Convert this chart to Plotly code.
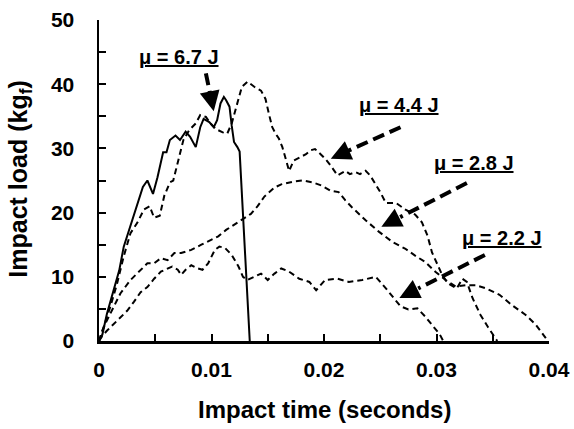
import plotly.graph_objects as go

# ---- data ----
t_67 = [0, 0.0003, 0.0007, 0.0013, 0.0018, 0.0022, 0.0027, 0.0033, 0.0039, 0.0043, 0.0048, 0.0052,
        0.0057, 0.006, 0.0063, 0.0068, 0.0072, 0.0077, 0.0081, 0.0086, 0.009, 0.0093, 0.0098, 0.0102,
        0.0105, 0.0108, 0.0111, 0.0113, 0.0116, 0.0118, 0.012, 0.0123, 0.0125, 0.0134]
L_67 = [0, 1.0, 4.2, 7.9, 11, 14.7, 17.4, 20.5, 24, 25, 22.9, 25.5,
        29.4, 29.4, 31.3, 32, 31.3, 32.6, 31.8, 30.2, 33.3, 34.6, 34.1, 33.3,
        34.4, 37, 38, 37.5, 36.5, 33.5, 31, 30.2, 29.5, 0]

t_44 = [0, 0.0004, 0.001, 0.0016, 0.0022, 0.0028, 0.0034, 0.004, 0.0045, 0.0049, 0.0054, 0.0058,
        0.0063, 0.0066, 0.0071, 0.0075, 0.008, 0.0086, 0.009, 0.0095, 0.0099, 0.0104, 0.011, 0.0114,
        0.0118, 0.0123, 0.0127, 0.0132, 0.0138, 0.0144, 0.0148, 0.0151, 0.0154, 0.0157, 0.016, 0.0163,
        0.0167, 0.0169, 0.0173, 0.0179, 0.0184, 0.0188, 0.0192, 0.0197, 0.0201, 0.0206, 0.0209, 0.0212,
        0.0214, 0.0219, 0.0223, 0.0228, 0.0232, 0.0237, 0.0241, 0.0245, 0.025, 0.0255, 0.0264, 0.0272,
        0.0281, 0.0287, 0.0292, 0.0296, 0.0301, 0.0305, 0.031, 0.0318, 0.0323, 0.0327, 0.0332, 0.0339,
        0.0346, 0.0352, 0.0354]
L_44 = [0, 2.1, 5.3, 8.9, 13.2, 16.8, 18.4, 20.5, 21, 19.2, 19.5, 22.6,
        24.7, 25, 28.6, 31.3, 32.8, 33.9, 35.2, 34.9, 33.9, 33, 32.5, 32.3,
        33.9, 37, 39.6, 40.4, 39.6, 39, 37.7, 35.4, 33.3, 32.3, 31.5, 30.2,
        27.6, 26.5, 28.1, 28.6, 29.1, 29.7, 29.9, 29.1, 28.4, 27.3, 26.5, 25.8,
        26, 26.5, 26, 26.3, 26, 26.5, 25.8, 24.7, 23.2, 21.5, 21.5, 20.5,
        19.7, 18.5, 16.4, 13.8, 11.8, 10.3, 9, 8.2, 9.7, 9.2, 6.7, 4.1,
        2.1, 0.5, 0]

t_28 = [0, 0.0003, 0.0007, 0.0013, 0.0019, 0.0028, 0.0037, 0.0043, 0.0049, 0.0055, 0.0061, 0.0067,
        0.0073, 0.0082, 0.0091, 0.01, 0.0106, 0.0113, 0.0121, 0.0129, 0.0135, 0.0141, 0.0147, 0.0156,
        0.0162, 0.0172, 0.0181, 0.019, 0.0198, 0.0206, 0.0213, 0.0219, 0.0225, 0.0237, 0.0249, 0.0261,
        0.0272, 0.0281, 0.029, 0.0299, 0.0308, 0.0317, 0.0326, 0.0335, 0.0344, 0.0356, 0.0367, 0.0379,
        0.0388, 0.0397, 0.0399]
L_28 = [0, 1.6, 3.2, 5.3, 7.4, 9.5, 11, 12.1, 12.1, 12.9, 12.6, 13.7,
        13.7, 14.2, 15, 15.8, 16.3, 17.3, 18.2, 19.2, 19.8, 21, 22.5, 23.9,
        24.4, 24.8, 25, 24.7, 24.2, 23.4, 23.2, 21.9, 20.8, 18.8, 17, 15.4,
        14.4, 13.3, 12.3, 10.8, 9.5, 8.5, 8.7, 8.7, 8.2, 7.2, 5.6, 4.1,
        2.6, 0.5, 0]

t_22 = [0, 0.0003, 0.0007, 0.0013, 0.0019, 0.0025, 0.0031, 0.0037, 0.0043, 0.0049, 0.0055, 0.0061,
        0.0065, 0.007, 0.0073, 0.0077, 0.0082, 0.0088, 0.0092, 0.0097, 0.0103, 0.0107, 0.0112, 0.0118,
        0.0124, 0.0128, 0.0132, 0.0138, 0.0144, 0.015, 0.0156, 0.0162, 0.0169, 0.0178, 0.0187, 0.0193,
        0.0201, 0.0212, 0.0222, 0.0234, 0.0246, 0.0255, 0.0262, 0.0268, 0.0275, 0.0283, 0.029, 0.0297,
        0.0303, 0.0306]
L_22 = [0, 0.8, 1.6, 2.6, 3.7, 4.7, 6.1, 7.6, 8.4, 9.7, 10.8, 11.3,
        11.6, 11.1, 10.3, 11.1, 11.8, 11.3, 11.1, 12.1, 14.2, 14.7, 14.5, 13.4,
        11.6, 10, 9.5, 10, 10.5, 9.5, 10.5, 11.3, 10.8, 9.7, 9.2, 7.9,
        9.5, 9.7, 9.2, 9.5, 10, 8.2, 6.7, 5.4, 4.9, 5.1, 3.8, 2.3,
        1, 0]

labels = ["μ = 6.7 J", "μ = 4.4 J", "μ = 2.8 J", "μ = 2.2 J"]
x_ticks = [0, 0.01, 0.02, 0.03, 0.04]
x_ticklabels = ["0", "0.01", "0.02", "0.03", "0.04"]
y_ticks = [0, 10, 20, 30, 40, 50]
x_title = "Impact time (seconds)"
y_title = "Impact load (kg<sub>f</sub>)"

FONT = "Liberation Sans, Arial, sans-serif"

fig = go.Figure()
fig.add_trace(go.Scatter(x=t_67, y=L_67, mode="lines", line=dict(color="black", width=2), showlegend=False))
for tt, LL in [(t_44, L_44), (t_28, L_28), (t_22, L_22)]:
    fig.add_trace(go.Scatter(x=tt, y=LL, mode="lines",
                             line=dict(color="black", width=2, dash="6px,4px"), showlegend=False))

# annotations: label left edge (x, y), dashed arrow start, arrow tip
ann = [
    (labels[0], (0.0034, 44.2), (0.0095, 41.7), (0.0102, 35.8)),
    (labels[1], (0.0229, 36.8), (0.0268, 33.3), (0.0206, 28.4)),
    (labels[2], (0.0296, 27.7), (0.0327, 24.6), (0.0251, 17.8)),
    (labels[3], (0.0321, 16.0), (0.0343, 13.4), (0.0267, 6.7)),
]
for text, (lx, ly), (sx, sy), (ex, ey) in ann:
    f = 0.22
    bx, by = ex + f * (sx - ex), ey + f * (sy - ey)
    fig.add_trace(go.Scatter(x=[sx, bx], y=[sy, by], mode="lines",
                             line=dict(color="black", width=4, dash="12px,6px"),
                             showlegend=False, cliponaxis=False, hoverinfo="skip"))
    fig.add_annotation(x=ex, y=ey, ax=bx, ay=by, axref="x", ayref="y", xref="x", yref="y",
                       text="", showarrow=True, arrowhead=2, arrowsize=1.0, arrowwidth=4,
                       arrowcolor="black", standoff=0)
    fig.add_annotation(x=lx, y=ly, text="<b>" + text + "</b>", showarrow=False,
                       font=dict(family=FONT, size=20, color="black", lineposition="under"),
                       xanchor="left", yanchor="middle")

# axis titles
fig.add_annotation(x=0.5, y=-0.212, xref="paper", yref="paper", text="<b>" + x_title + "</b>",
                   showarrow=False, xanchor="center", yanchor="middle",
                   font=dict(family=FONT, size=24, color="black"))
fig.add_annotation(x=-0.176, y=0.505, xref="paper", yref="paper", text="<b>" + y_title + "</b>",
                   showarrow=False, xanchor="center", yanchor="middle", textangle=-90,
                   font=dict(family=FONT, size=25, color="black"))

axis_common = dict(
    showgrid=False, zeroline=False, showline=True, linecolor="black", linewidth=2.5,
    ticks="inside", ticklen=7, tickwidth=2, tickcolor="black",
    tickfont=dict(family=FONT, size=21, color="black", weight="bold"),
    mirror=False, automargin=False, ticklabeloverflow="allow",
)
fig.update_xaxes(range=[0, 0.04], tickvals=x_ticks, ticktext=x_ticklabels,
                 minor=dict(dtick=0.005, ticks="inside", ticklen=7, tickwidth=2, tickcolor="black"),
                 ticklabelstandoff=8, **axis_common)
fig.update_yaxes(range=[0, 50], tickvals=y_ticks,
                 minor=dict(dtick=5, ticks="inside", ticklen=7, tickwidth=2, tickcolor="black"),
                 ticklabelstandoff=18, **axis_common)
fig.update_layout(width=574, height=429, margin=dict(l=99, r=25, t=20, b=88),
                  plot_bgcolor="white", paper_bgcolor="white")
fig.write_html("out.html", config={"displayModeBar": False, "staticPlot": True},
               post_script="document.body.style.margin='0';document.body.style.overflow='hidden';")
